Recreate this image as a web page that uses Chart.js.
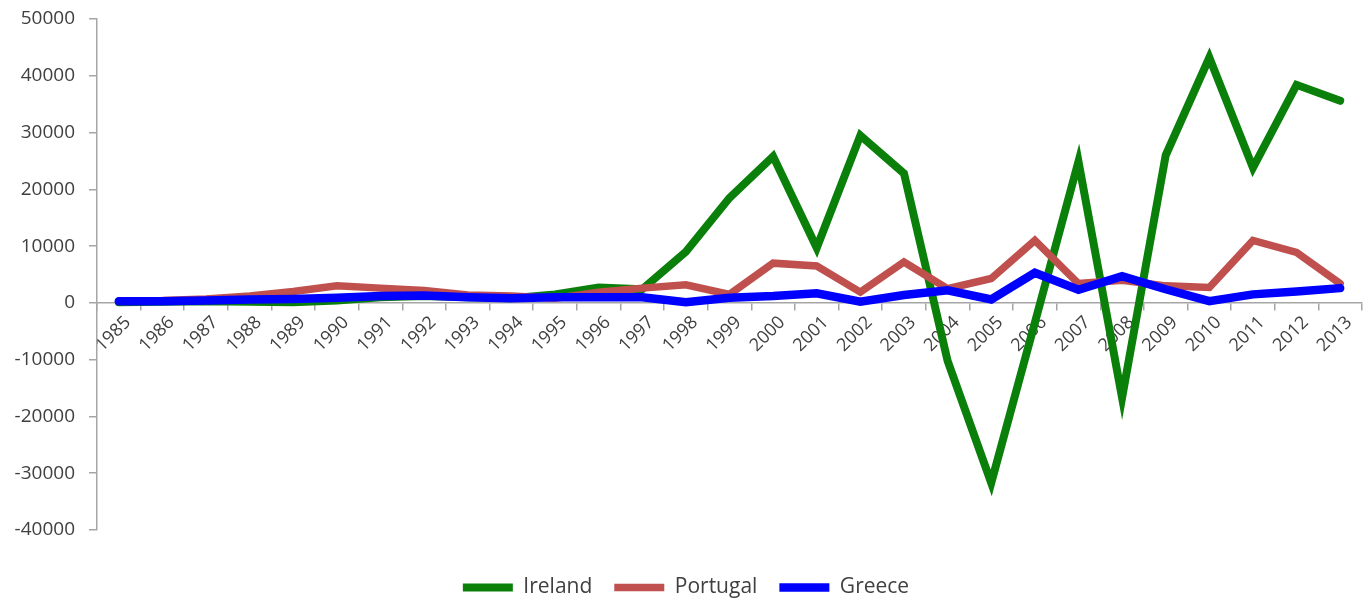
<!DOCTYPE html>
<html>
<head>
<meta charset="utf-8">
<script src="https://cdn.jsdelivr.net/npm/chart.js@4.4.1/dist/chart.umd.min.js"></script>
<style>
  html, body { margin: 0; padding: 0; background: #fff; }
  #wrap { width: 1368px; height: 598px; }
</style>
</head>
<body>
<div id="wrap"><canvas id="myChart1"></canvas></div>
<script>
const years = ['1985','1986','1987','1988','1989','1990','1991','1992','1993','1994',
  '1995','1996','1997','1998','1999','2000','2001','2002','2003','2004',
  '2005','2006','2007','2008','2009','2010','2011','2012','2013'];

const ireland = [100, 200, 300, 200, 100, 400, 1000, 1200, 1000, 800,
  1500, 2700, 2400, 9000, 18500, 25800, 9700, 29500, 22800, -10200,
  -31700, -3500, 24900, -16700, 26000, 43200, 23800, 38400, 35600];

const portugal = [300, 400, 700, 1200, 2000, 3000, 2600, 2200, 1400, 1200,
  800, 1900, 2600, 3200, 1500, 7000, 6500, 1900, 7200, 2500,
  4300, 11000, 3400, 4000, 3000, 2700, 11000, 8900, 3400];

const greece = [300, 300, 400, 600, 700, 900, 1200, 1300, 1000, 800,
  1000, 1000, 1000, 100, 900, 1200, 1700, 200, 1400, 2200,
  600, 5300, 2300, 4700, 2400, 300, 1500, 2000, 2600];

const yMin = -40000;
const yMax = 50000;
const yStep = 10000;

const ctx = document.getElementById('myChart1');
const family = "'Open Sans', 'Noto Sans', sans-serif";

function series(label, data, color, width, order) {
  return {
    label: label,
    data: data,
    borderColor: color,
    backgroundColor: color,
    borderWidth: width,
    pointRadius: 0,
    pointHoverRadius: 0,
    tension: 0,
    borderCapStyle: 'round',
    borderJoinStyle: 'miter',
    order: order
  };
}

new Chart(ctx, {
  type: 'line',
  data: {
    labels: years,
    datasets: [
      series('Ireland', ireland, '#0a800a', 8, 2),
      series('Portugal', portugal, '#c0504d', 7.5, 1),
      series('Greece', greece, '#0000ff', 8.5, 0)
    ]
  },
  options: {
    responsive: true,
    maintainAspectRatio: false,
    animation: false,
    layout: { padding: { top: 19, right: 6, left: 10, bottom: -10 } },
    plugins: {
      tooltip: { enabled: false },
      legend: {
        position: 'bottom',
        title: { display: true, text: ' ', font: { size: 10 }, padding: { top: 13, bottom: 0 } },
        labels: {
          usePointStyle: true,
          pointStyle: 'line',
          pointStyleWidth: 50,
          padding: 22,
          color: '#404040',
          font: { family: family, size: 21 },
          sort: (a, b) => a.datasetIndex - b.datasetIndex
        }
      }
    },
    scales: {
      x: {
        position: { y: 0 },
        offset: true,
        afterFit: (scale) => { scale.paddingLeft = 0; scale.paddingRight = 0; },
        grid: {
          offset: true,
          drawOnChartArea: false,
          tickLength: 7,
          color: '#a6a6a6',
          lineWidth: 1.5
        },
        border: { color: '#a6a6a6', width: 1.5 },
        ticks: {
          color: '#404040',
          font: { family: family, size: 18 },
          minRotation: 45,
          maxRotation: 45,
          autoSkip: false,
          padding: 2,
          labelOffset: 9
        }
      },
      y: {
        min: yMin,
        max: yMax,
        afterFit: (scale) => { scale.width = 87; scale.paddingTop = 0; scale.paddingBottom = 0; },
        grid: {
          drawOnChartArea: false,
          tickLength: 8,
          color: '#a6a6a6',
          lineWidth: 1.5
        },
        border: { color: '#a6a6a6', width: 1.5 },
        ticks: {
          stepSize: yStep,
          color: '#404040',
          font: { family: family, size: 19 },
          padding: 14,
          callback: (v) => String(v)
        }
      }
    }
  }
});
</script>
</body>
</html>
